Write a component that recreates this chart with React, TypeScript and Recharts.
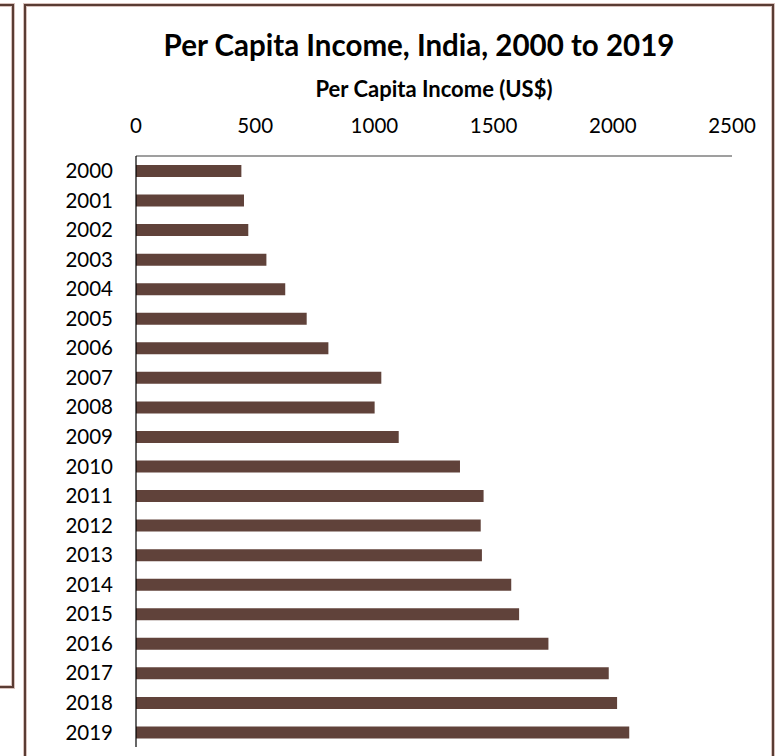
import React from 'react';
import { BarChart, Bar, XAxis, YAxis } from 'recharts';

const years = ['2000','2001','2002','2003','2004','2005','2006','2007','2008','2009','2010','2011','2012','2013','2014','2015','2016','2017','2018','2019'];
const incomes = [442, 453, 471, 547, 626, 716, 807, 1029, 1001, 1102, 1359, 1458, 1446, 1451, 1574, 1607, 1730, 1983, 2018, 2069];
const xTicks = [0, 500, 1000, 1500, 2000, 2500];
const title = 'Per Capita Income, India, 2000 to 2019';
const axisTitle = 'Per Capita Income (US$)';

const data = years.map((y, i) => ({ year: y, income: incomes[i] }));

const FONT = 'Lato, "Open Sans", sans-serif';
const boxBorder = '2px solid #5a3c34';
const boxHalo = '0 0 0 1px #d8c2bd, inset 0 0 0 1px #d8c2bd';

export default function App() {
  return (
    <div style={{ position: 'absolute', left: 0, top: 0, width: 782, height: 756, overflow: 'hidden', background: '#fff' }}>
      <div style={{ position: 'absolute', left: -12, top: 4, width: 26, height: 684, border: boxBorder, boxShadow: boxHalo, boxSizing: 'border-box' }} />
      <div style={{ position: 'absolute', left: 24, top: 4, width: 750, height: 800, border: boxBorder, boxShadow: boxHalo, boxSizing: 'border-box' }} />
      <div style={{ position: 'absolute', left: 0, top: 0 }}>
        <BarChart width={782} height={756} data={data} layout="vertical" margin={{ top: 116, right: 50, bottom: 9, left: 76 }}>
          <XAxis
            type="number"
            orientation="top"
            domain={[0, 2500]}
            ticks={xTicks}
            height={40}
            tickLine={false}
            tickSize={0}
            tickMargin={23}
            axisLine={{ stroke: '#404040', strokeWidth: 1.2 }}
            tick={{ fill: '#000', fontSize: 20.5, fontFamily: FONT }}
            interval={0}
            label={{ value: axisTitle, position: 'top', offset: 19, style: { fill: '#000', fontSize: 22, fontWeight: 700, fontFamily: FONT } }}
          />
          <YAxis
            type="category"
            dataKey="year"
            width={60}
            tickLine={false}
            tickSize={0}
            tickMargin={23}
            axisLine={{ stroke: '#000', strokeWidth: 1.2 }}
            tick={{ fill: '#000', fontSize: 20.5, fontFamily: FONT }}
            interval={0}
          />
          <Bar dataKey="income" fill="#60423a" barSize={12} isAnimationActive={false} />
        </BarChart>
      </div>
      <div style={{ position: 'absolute', left: 69, width: 700, top: 26, textAlign: 'center', fontFamily: FONT, fontWeight: 700, fontSize: 29.5, color: '#000', lineHeight: '38px', whiteSpace: 'nowrap' }}>
        {title}
      </div>
    </div>
  );
}
